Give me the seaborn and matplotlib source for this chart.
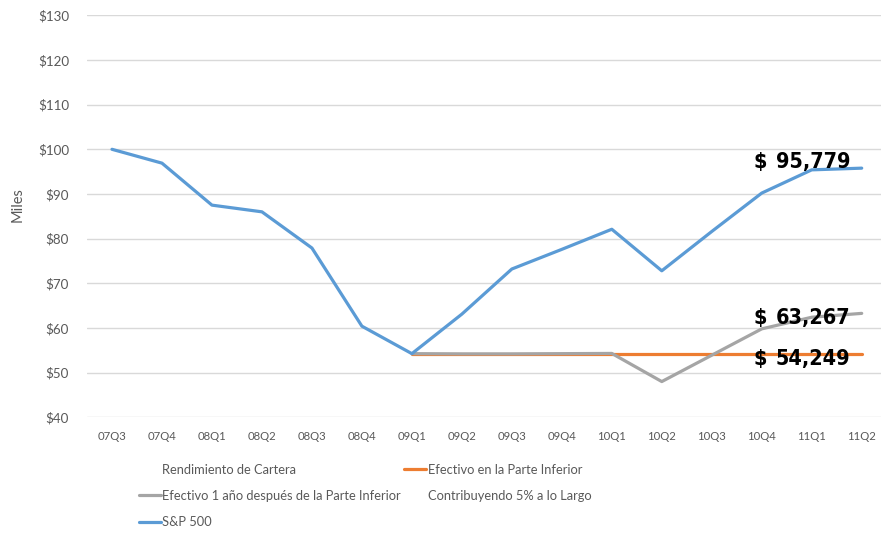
import numpy as np
import pandas as pd
import matplotlib
matplotlib.use("Agg")
import matplotlib.pyplot as plt
from matplotlib.lines import Line2D
import seaborn as sns

quarters = ["07Q3", "07Q4", "08Q1", "08Q2", "08Q3", "08Q4", "09Q1", "09Q2",
            "09Q3", "09Q4", "10Q1", "10Q2", "10Q3", "10Q4", "11Q1", "11Q2"]
sp500 = [100.0, 96.9, 87.5, 86.0, 77.9, 60.4, 54.249, 63.1,
         73.2, 77.6, 82.1, 72.8, 81.6, 90.2, 95.4, 95.779]
cash_bottom = [np.nan] * 6 + [54.249] * 10
cash_1yr = [np.nan] * 6 + [54.249, 54.2, 54.2, 54.25, 54.3, 48.0, 53.9, 59.8, 62.4, 63.267]
yticks = [40, 50, 60, 70, 80, 90, 100, 110, 120, 130]
annot_values = ["95,779", "63,267", "54,249"]
annot_y = [97.2, 62.3, 53.1]

series_names = ["Efectivo en la Parte Inferior",
                "Efectivo 1 año después de la Parte Inferior",
                "S&P 500"]
colors = {"Efectivo en la Parte Inferior": "#ED7D31",
          "Efectivo 1 año después de la Parte Inferior": "#A5A5A5",
          "S&P 500": "#5B9BD5"}

idx = np.arange(len(quarters))
df = pd.concat([
    pd.DataFrame({"x": idx, "value": cash_bottom, "series": series_names[0]}),
    pd.DataFrame({"x": idx, "value": cash_1yr, "series": series_names[1]}),
    pd.DataFrame({"x": idx, "value": sp500, "series": series_names[2]}),
]).dropna()

sns.set_theme(style="white")
plt.rcParams["font.family"] = ["Lato", "DejaVu Sans"]

fig = plt.figure(figsize=(8.81, 5.33), dpi=100)
ax = fig.add_axes([87 / 881, 115.7 / 533, 799.7 / 881, 402 / 533])

sns.lineplot(data=df, x="x", y="value", hue="series", hue_order=series_names,
             palette=colors, estimator=None, sort=False, linewidth=2.3,
             legend=False, ax=ax)

ax.set_xlim(-0.5, len(quarters) - 0.5)
ax.set_ylim(40, 130)
ax.set_yticks(yticks)
ax.set_yticklabels([f"${v}" for v in yticks], fontsize=9.6, color="#595959")
ax.set_xticks(idx)
ax.set_xticklabels(quarters, fontsize=8.2, color="#595959")
ax.tick_params(axis="both", length=0)
ax.tick_params(axis="y", pad=13)
ax.tick_params(axis="x", pad=10)
ax.yaxis.grid(True, color="#D9D9D9", linewidth=1)
ax.set_axisbelow(True)
for s in ax.spines.values():
    s.set_visible(False)
ax.set_xlabel("")
ax.set_ylabel("")
fig.text(18 / 881, 1 - 205 / 533, "Miles", rotation=90, ha="center", va="center",
         fontsize=10.5, color="#595959")

afam = ["DejaVu Sans"]
for txt, yv in zip(annot_values, annot_y):
    ax.text(12.83, yv, "$", ha="left", va="center", fontsize=15.5,
            fontweight="bold", fontstretch="condensed", family=afam, color="black")
    ax.text(14.77, yv, txt, ha="right", va="center", fontsize=15.5,
            fontweight="bold", fontstretch="condensed", family=afam, color="black")

h_r = Line2D([], [], color="none")
h_o = Line2D([], [], color=colors[series_names[0]], linewidth=2.3)
h_g = Line2D([], [], color=colors[series_names[1]], linewidth=2.3)
h_c = Line2D([], [], color="none")
h_b = Line2D([], [], color=colors[series_names[2]], linewidth=2.3)
handles = [h_r, h_g, h_b, h_o, h_c]
labels = ["Rendimiento de Cartera", series_names[1], "S&P 500",
          series_names[0], "Contribuyendo 5% a lo Largo"]
fig.legend(handles, labels, ncol=2, loc="upper left",
           bbox_to_anchor=(127 / 881, 1 - 452 / 533), frameon=False,
           fontsize=9.3, labelcolor="#595959", handlelength=1.7,
           handletextpad=0.1, columnspacing=0.3, labelspacing=1.1)

fig.savefig("out.png", dpi=100)
